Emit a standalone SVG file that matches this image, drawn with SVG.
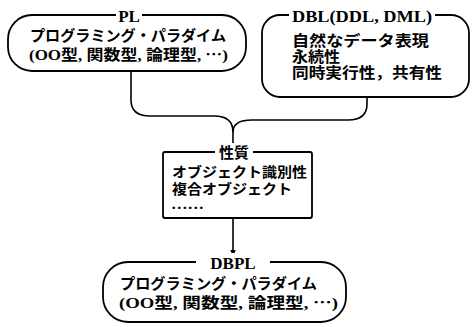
<svg xmlns="http://www.w3.org/2000/svg" width="472" height="327" viewBox="0 0 472 327">
<defs>
<style>
.box{fill:none;stroke:#000;stroke-width:1.8}
.con{fill:none;stroke:#000;stroke-width:1.6}
.t{font-family:"Liberation Serif","Noto Sans CJK JP",serif;font-size:15px;font-weight:bold;fill:#000}
.s{font-size:14px}
.ttl{font-family:"Liberation Serif","Noto Sans CJK JP",serif;font-size:17px;font-weight:bold;fill:#000;text-anchor:middle}
.bg{fill:#fff}
</style>
<marker id="ah" viewBox="0 0 10 10" refX="9" refY="5" markerWidth="7" markerHeight="9" orient="auto" markerUnits="userSpaceOnUse">
<path d="M0,1 L10,5 L0,9 Z" fill="#000"/>
</marker>
</defs>
<rect width="472" height="327" fill="#fff"/>
<g id="connectors">
<path class="con" d="M131,71 V100 Q131,116 150,116 H214 Q233,116 233,132"/>
<path class="con" d="M367,97 V104 Q367,120 348,120 H252 Q233,120 233,132 V145"/>
<path class="con" d="M233,218 V256" marker-end="url(#ah)"/>
</g>
<g id="PL">
<rect class="box" x="8" y="15" width="238" height="56" rx="24" ry="24"/>
<rect class="bg" x="116" y="6" width="26" height="18"/>
<text class="ttl" x="129" y="22">PL</text>
<text class="t" x="30" y="41" textLength="196" lengthAdjust="spacingAndGlyphs">プログラミング・パラダイム</text>
<text class="t" x="29" y="60" textLength="199" lengthAdjust="spacingAndGlyphs">(OO型, 関数型, 論理型, ⋯)</text>
</g>
<g id="DBL">
<rect class="box" x="262" y="15" width="207" height="82" rx="18" ry="18"/>
<rect class="bg" x="289" y="6" width="146" height="18"/>
<text class="ttl" x="362" y="22" textLength="140" lengthAdjust="spacingAndGlyphs">DBL(DDL, DML)</text>
<text class="t" x="292" y="46" textLength="137" lengthAdjust="spacingAndGlyphs">自然なデータ表現</text>
<text class="t" x="292" y="62" textLength="48" lengthAdjust="spacingAndGlyphs">永続性</text>
<text class="t" x="292" y="78" textLength="150" lengthAdjust="spacingAndGlyphs">同時実行性，共有性</text>
</g>
<g id="seishitsu">
<rect class="box" x="163" y="152" width="149" height="66" rx="2" ry="2"/>
<rect class="bg" x="215" y="143" width="38" height="18"/>
<text class="ttl" x="234" y="158" style="font-size:15px">性質</text>
<text class="t s" x="172" y="177" textLength="135" lengthAdjust="spacingAndGlyphs">オブジェクト識別性</text>
<text class="t s" x="172" y="194" textLength="120" lengthAdjust="spacingAndGlyphs">複合オブジェクト</text>
<text class="t s" x="171" y="209" textLength="33" lengthAdjust="spacingAndGlyphs">……</text>
</g>
<g id="DBPL">
<rect class="box" x="103" y="262" width="243" height="60" rx="25" ry="25"/>
<rect class="bg" x="196" y="253" width="74" height="18"/>
<text class="ttl" x="233" y="269">DBPL</text>
<text class="t" x="120" y="289" textLength="197" lengthAdjust="spacingAndGlyphs">プログラミング・パラダイム</text>
<text class="t" x="119" y="308" textLength="219" lengthAdjust="spacingAndGlyphs">(OO型, 関数型, 論理型, ⋯)</text>
</g>
</svg>
